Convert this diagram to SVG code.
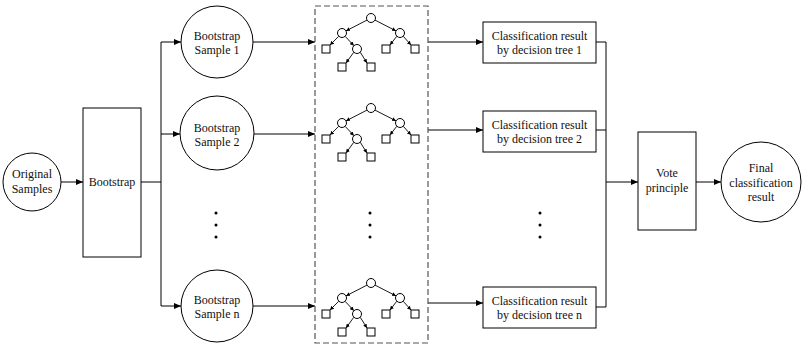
<svg xmlns="http://www.w3.org/2000/svg" xmlns:xlink="http://www.w3.org/1999/xlink" width="803" height="345" viewBox="0 0 803 345" font-family="'Liberation Serif', serif">
<style>
text{font-family:'Liberation Serif',serif;font-size:12px;fill:#111;text-anchor:middle}
.n{fill:#fff;stroke:#000;stroke-width:1}
.c{fill:none;stroke:#000;stroke-width:1}
.a{fill:none;stroke:#000;stroke-width:1;marker-end:url(#ah)}
.te{fill:none;stroke:#000;stroke-width:0.9;marker-end:url(#sh)}
.dot{fill:#000}
</style>
<defs>
<marker id="ah" markerUnits="userSpaceOnUse" markerWidth="7" markerHeight="6" refX="7" refY="3" orient="auto"><path d="M0,0 L7,3 L0,6 z" fill="#000"/></marker>
<marker id="sh" markerUnits="userSpaceOnUse" markerWidth="4" markerHeight="4" refX="4" refY="2" orient="auto"><path d="M0,0 L4,2 L0,4 z" fill="#000"/></marker>
<g id="tree">
<path class="te" d="M-4,2.1 L-25,12.9"/>
<path class="te" d="M4,2.1 L25,12.9"/>
<path class="te" d="M-32.2,18.2 L-41,27"/>
<path class="te" d="M-25.9,18.3 L-17.1,27.7"/>
<path class="te" d="M25.8,18.2 L19,27"/>
<path class="te" d="M32.2,18.2 L40,27"/>
<path class="te" d="M-17.2,34.2 L-25,45"/>
<path class="te" d="M-10.8,34.2 L-4,45"/>
<circle class="n" cx="0" cy="0" r="4.5"/>
<circle class="n" cx="-29" cy="15" r="4.5"/>
<circle class="n" cx="29" cy="15" r="4.5"/>
<circle class="n" cx="-14" cy="31" r="4.5"/>
<rect class="n" x="-49" y="27" width="8" height="8"/>
<rect class="n" x="11" y="27" width="8" height="8"/>
<rect class="n" x="40" y="27" width="8" height="8"/>
<rect class="n" x="-33" y="45" width="8" height="8"/>
<rect class="n" x="-4" y="45" width="8" height="8"/>
</g>
</defs>
<rect width="803" height="345" fill="#fff"/>
<g id="connectors">
<path class="a" d="M61,182 H83"/>
<path class="c" d="M141,182 H161 M161,42 V306"/>
<path class="a" d="M161,42 H181"/>
<path class="a" d="M161,134 H180"/>
<path class="a" d="M161,306 H181"/>
<path class="a" d="M253,42 H315"/>
<path class="a" d="M254,134 H315"/>
<path class="a" d="M253,306 H315"/>
<path class="a" d="M428,42 H483"/>
<path class="a" d="M428,130 H483"/>
<path class="a" d="M428,303 H483"/>
<path class="c" d="M596,42 H606 M596,130 H606 M596,307 H606 M606,42 V307"/>
<path class="a" d="M606,182 H638"/>
<path class="a" d="M696,182 H721"/>
</g>
<g id="original-samples">
<circle class="n" cx="32" cy="182" r="29"/>
<text x="32" y="178">Original</text>
<text x="32" y="193">Samples</text>
</g>
<g id="bootstrap">
<rect class="n" x="83" y="108" width="58" height="149"/>
<text x="112" y="186">Bootstrap</text>
</g>
<g id="sample-1">
<circle class="n" cx="217" cy="42" r="36"/>
<text x="217" y="40">Bootstrap</text>
<text x="217" y="54">Sample 1</text>
</g>
<g id="sample-2">
<circle class="n" cx="217" cy="133" r="37"/>
<text x="217" y="132">Bootstrap</text>
<text x="217" y="146">Sample 2</text>
</g>
<g id="sample-dots">
<circle class="dot" cx="216" cy="213" r="1.5"/>
<circle class="dot" cx="216" cy="225" r="1.5"/>
<circle class="dot" cx="216" cy="237" r="1.5"/>
</g>
<g id="sample-n">
<circle class="n" cx="217" cy="306" r="36"/>
<text x="217" y="304">Bootstrap</text>
<text x="217" y="318">Sample n</text>
</g>
<g id="forest">
<rect x="315" y="6" width="113" height="337" fill="none" stroke="#555" stroke-width="1.2" stroke-dasharray="6,3"/>
<use xlink:href="#tree" href="#tree" x="371" y="18"/>
<use xlink:href="#tree" href="#tree" x="371" y="108"/>
<use xlink:href="#tree" href="#tree" x="371" y="283"/>
<circle class="dot" cx="370" cy="213" r="1.5"/>
<circle class="dot" cx="370" cy="225" r="1.5"/>
<circle class="dot" cx="370" cy="237" r="1.5"/>
</g>
<g id="result-1">
<rect class="n" x="483" y="22" width="113" height="41"/>
<text x="539.5" y="40">Classification result</text>
<text x="539.5" y="54">by decision tree 1</text>
</g>
<g id="result-2">
<rect class="n" x="483" y="111" width="113" height="41"/>
<text x="539.5" y="129">Classification result</text>
<text x="539.5" y="143">by decision tree 2</text>
</g>
<g id="result-dots">
<circle class="dot" cx="540" cy="213" r="1.5"/>
<circle class="dot" cx="540" cy="225" r="1.5"/>
<circle class="dot" cx="540" cy="237" r="1.5"/>
</g>
<g id="result-n">
<rect class="n" x="483" y="287" width="113" height="41"/>
<text x="539.5" y="305">Classification result</text>
<text x="539.5" y="319">by decision tree n</text>
</g>
<g id="vote">
<rect class="n" x="638" y="132" width="58" height="98"/>
<text x="667" y="177">Vote</text>
<text x="667" y="192">principle</text>
</g>
<g id="final">
<circle class="n" cx="761" cy="182" r="40"/>
<text x="761" y="172">Final</text>
<text x="761" y="187">classification</text>
<text x="761" y="201">result</text>
</g>
</svg>
